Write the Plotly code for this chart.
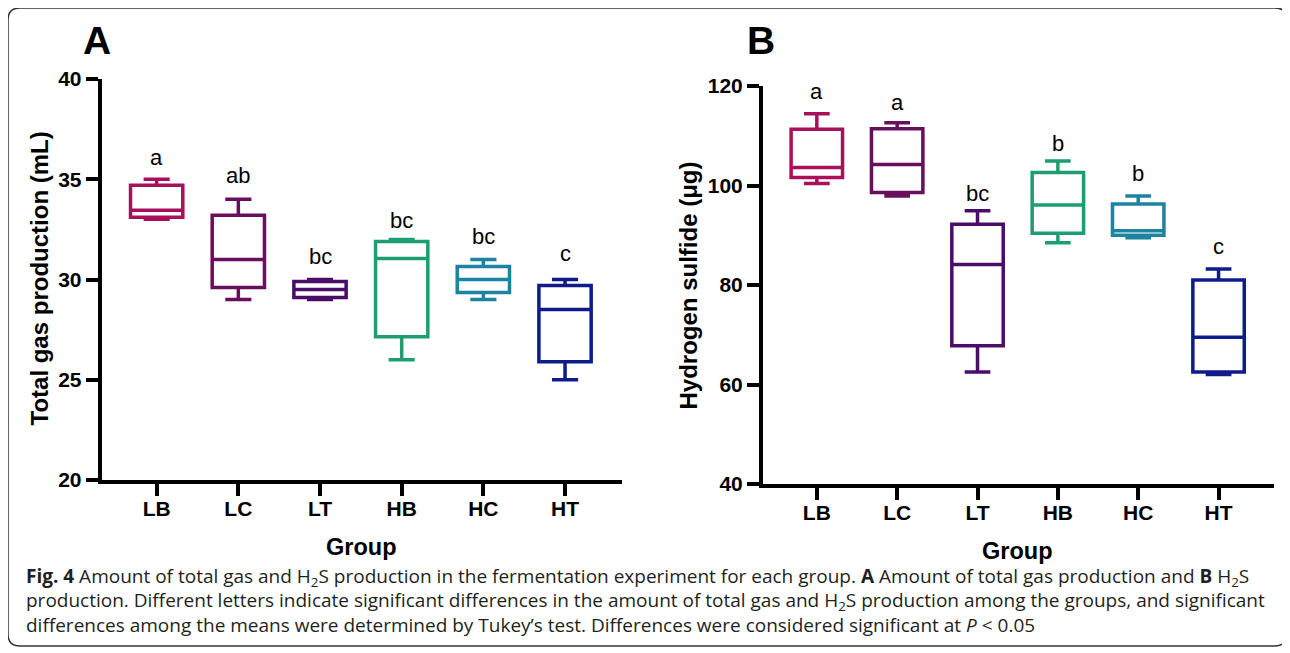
import plotly.graph_objects as go

groups = ["LB", "LC", "LT", "HB", "HC", "HT"]
colors = ["#A8105A", "#690E5C", "#4A0E69", "#1E9E70", "#1C83A0", "#0F1A8C"]

# Panel A: total gas production (mL)
gas_min = [33.0, 29.0, 29.0, 26.0, 29.0, 25.0]
gas_q1 = [33.1, 29.6, 29.1, 27.15, 29.35, 25.9]
gas_med = [33.45, 31.0, 29.5, 31.05, 30.0, 28.5]
gas_q3 = [34.7, 33.2, 29.9, 31.9, 30.65, 29.7]
gas_max = [35.0, 34.0, 30.0, 32.0, 31.0, 30.0]
gas_letters = ["a", "ab", "bc", "bc", "bc", "c"]
gas_letter_y = [35.76, 34.88, 30.81, 32.6, 31.8, 30.97]

# Panel B: hydrogen sulfide (ug)
h2s_min = [100.4, 97.9, 62.5, 88.5, 89.5, 62.0]
h2s_q1 = [101.6, 98.6, 67.8, 90.4, 90.0, 62.5]
h2s_med = [103.6, 104.2, 84.1, 96.1, 90.9, 69.5]
h2s_q3 = [111.3, 111.4, 92.2, 102.6, 96.3, 81.0]
h2s_max = [114.4, 112.6, 94.9, 104.9, 97.9, 83.2]
h2s_letters = ["a", "a", "bc", "b", "b", "c"]
h2s_letter_y = [117.65, 115.37, 97.07, 107.13, 101.09, 86.47]

W, H = 1290, 653
OFF = 8  # page body margin offset
def px(x):
    return (x - OFF) / W
def py(y):
    return 1 - (y - OFF) / H

fig = go.Figure()

panels = [
    ("x", "y", gas_min, gas_q1, gas_med, gas_q3, gas_max),
    ("x2", "y2", h2s_min, h2s_q1, h2s_med, h2s_q3, h2s_max),
]
for xa, ya, mn, q1, md, q3, mx in panels:
    for i, g in enumerate(groups):
        fig.add_trace(go.Box(
            x=[g], q1=[q1[i]], median=[md[i]], q3=[q3[i]],
            lowerfence=[mn[i]], upperfence=[mx[i]],
            xaxis=xa, yaxis=ya,
            width=0.64, whiskerwidth=0.5,
            fillcolor="rgba(255,255,255,0)",
            line=dict(color=colors[i], width=3.5),
            boxpoints=False, showlegend=False, hoverinfo="skip",
        ))

FAM = "Arial, Liberation Sans, sans-serif"
tickfont = dict(family=FAM, size=21, color="black", weight="bold")
axis_common = dict(
    showline=True, linecolor="black", linewidth=4,
    ticks="outside", tickwidth=4, tickcolor="black",
    showgrid=False, zeroline=False, tickfont=tickfont, automargin=False,
)

fig.update_layout(
    template="none",
    width=W, height=H, autosize=False,
    margin=dict(l=0, r=0, t=0, b=0, pad=0, autoexpand=False),
    paper_bgcolor="white", plot_bgcolor="white",
    boxmode="overlay", showlegend=False,
    xaxis=dict(domain=[px(101.7), px(621.8)], type="category",
               categoryorder="array", categoryarray=groups,
               range=[-0.673, 5.695], ticklen=12, anchor="y",
               ticklabelstandoff=-5, **axis_common),
    yaxis=dict(domain=[py(480), py(79)], range=[20, 40],
               tickvals=[20, 25, 30, 35, 40], ticklen=12, anchor="x",
               **axis_common),
    xaxis2=dict(domain=[px(763), px(1274)], type="category",
                categoryorder="array", categoryarray=groups,
                range=[-0.67, 5.69], ticklen=12, anchor="y2",
                ticklabelstandoff=-5, **axis_common),
    yaxis2=dict(domain=[py(484), py(86)], range=[40, 120],
                tickvals=[40, 60, 80, 100, 120], ticklen=12, anchor="x2",
                **axis_common),
)

ann = []
letter_font = dict(family=FAM, size=22, color="black")
for i, g in enumerate(groups):
    ann.append(dict(x=g, y=gas_letter_y[i], xref="x", yref="y", text=gas_letters[i],
                    showarrow=False, xanchor="center", yanchor="bottom", yshift=-8, font=letter_font))
    ann.append(dict(x=g, y=h2s_letter_y[i], xref="x2", yref="y2", text=h2s_letters[i],
                    showarrow=False, xanchor="center", yanchor="bottom", yshift=-8, font=letter_font))

bold = dict(family=FAM, size=24, color="black")
def lab(x, y, text, font, angle=0):
    return dict(x=px(x), y=py(y), xref="paper", yref="paper", text=text, textangle=angle,
                xanchor="center", yanchor="middle", showarrow=False, font=font)

ann += [
    lab(38.5, 279, "<b>Total gas production (mL)</b>", bold, -90),
    lab(688, 285.5, "<b>Hydrogen sulfide (μg)</b>", bold, -90),
    lab(361.7, 546.7, "<b>Group</b>", dict(bold, size=23.5)),
    lab(1018, 550.7, "<b>Group</b>", dict(bold, size=23.5)),
    lab(96.5, 40, "<b>A</b>", dict(bold, size=39)),
    lab(761, 40, "<b>B</b>", dict(bold, size=39)),
]

cap_font = dict(family="Open Sans, Noto Sans, sans-serif", size=19, color="#231F20")
caption = [
    "<b>Fig. 4</b> Amount of total gas and H<sub>2</sub>S production in the fermentation experiment for each group. "
    "<b>A</b> Amount of total gas production and <b>B</b> H<sub>2</sub>S",
    "production. Different letters indicate significant differences in the amount of total gas and "
    "H<sub>2</sub>S production among the groups, and significant",
    "differences among the means were determined by Tukey’s test. Differences were considered significant at "
    "<i>P</i> &lt; 0.05",
]
for k, line in enumerate(caption):
    ann.append(dict(x=px(24), y=py(577 + 24 * k), xref="paper", yref="paper", text=line,
                    xanchor="left", yanchor="middle", showarrow=False, font=cap_font))

fig.update_layout(annotations=ann)

# rounded frame
x0, y0, x1, y1, r = 8, 8, 1287, 646, 12
def P(x, y):
    return f"{px(x):.5f},{py(y):.5f}"
path = (f"M {P(x0 + r, y0)} L {P(x1 - r, y0)} Q {P(x1, y0)} {P(x1, y0 + r)} "
        f"L {P(x1, y1 - r)} Q {P(x1, y1)} {P(x1 - r, y1)} "
        f"L {P(x0 + r, y1)} Q {P(x0, y1)} {P(x0, y1 - r)} "
        f"L {P(x0, y0 + r)} Q {P(x0, y0)} {P(x0 + r, y0)} Z")
fig.add_shape(type="path", path=path, xref="paper", yref="paper",
              line=dict(color="#333333", width=1.5), fillcolor="rgba(0,0,0,0)", layer="below")

fig.write_html("out.html")
